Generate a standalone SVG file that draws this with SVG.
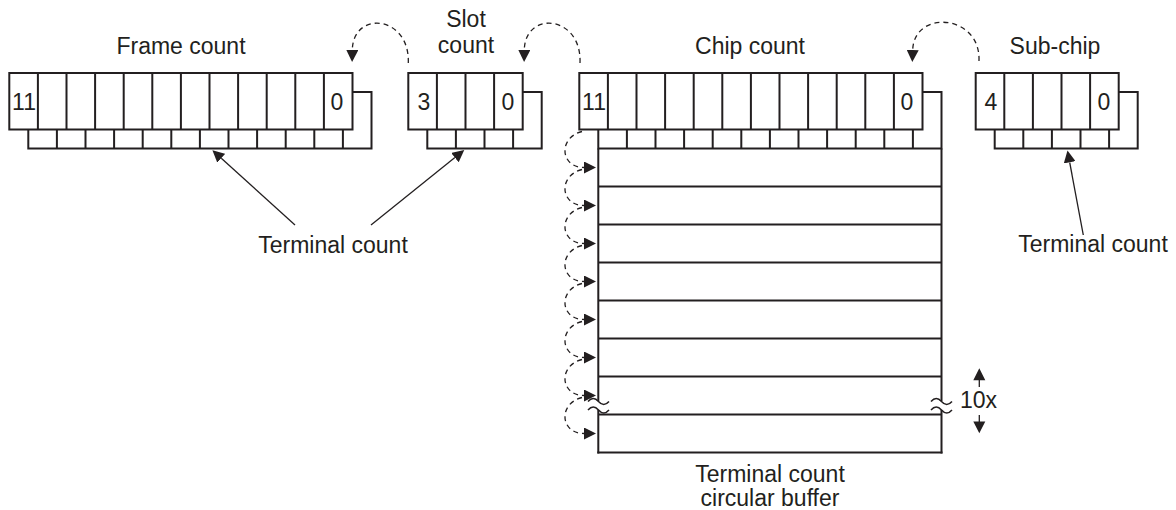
<svg xmlns="http://www.w3.org/2000/svg" xmlns:xlink="http://www.w3.org/1999/xlink" width="1176" height="510" viewBox="0 0 1176 510">
<style>
.t{font-family:"Liberation Sans",Arial,Helvetica,sans-serif;font-size:23px;fill:#231f20}
.m{text-anchor:middle}
.reg{fill:#fff;stroke:#231f20;stroke-width:2}
.div{fill:none;stroke:#231f20;stroke-width:2}
.buf{fill:none;stroke:#231f20;stroke-width:2}
.dash{fill:none;stroke:#231f20;stroke-width:1.3;stroke-dasharray:5 4}
.thin{fill:none;stroke:#231f20;stroke-width:1.3}
.tl{fill:none;stroke:#231f20;stroke-width:1.5}
</style>
<defs>
<marker id="ah" markerUnits="userSpaceOnUse" markerWidth="12" markerHeight="12" refX="0" refY="6" orient="auto">
<path d="M0,0 L12,6 L0,12 z" fill="#231f20"/>
</marker>
<g id="r12">
<rect class="reg" x="0" y="0" width="343.2" height="56.5"/>
<path class="div" d="M28.6,0V56.5M57.2,0V56.5M85.8,0V56.5M114.4,0V56.5M143,0V56.5M171.6,0V56.5M200.2,0V56.5M228.8,0V56.5M257.4,0V56.5M286,0V56.5M314.6,0V56.5"/>
</g>
<g id="r4">
<rect class="reg" x="0" y="0" width="114.4" height="56.5"/>
<path class="div" d="M28.6,0V56.5M57.2,0V56.5M85.8,0V56.5"/>
</g>
<g id="r5">
<rect class="reg" x="0" y="0" width="143" height="56.5"/>
<path class="div" d="M28.6,0V56.5M57.2,0V56.5M85.8,0V56.5M114.4,0V56.5"/>
</g>
</defs>

<g id="frame-count">
<use xlink:href="#r12" x="28.3" y="92"/>
<use xlink:href="#r12" x="9.3" y="73"/>
<text class="t m" x="181" y="54">Frame count</text>
<text class="t m" x="24" y="110">11</text>
<text class="t m" x="337" y="110">0</text>
</g>

<g id="slot-count">
<use xlink:href="#r4" x="427.3" y="92"/>
<use xlink:href="#r4" x="408.3" y="73"/>
<text class="t m" x="466" y="27.3">Slot</text>
<text class="t m" x="466" y="53.3">count</text>
<text class="t m" x="424" y="110">3</text>
<text class="t m" x="508" y="110">0</text>
</g>

<g id="chip-count">
<use xlink:href="#r12" x="598.3" y="92"/>
<use xlink:href="#r12" x="579.3" y="73"/>
<text class="t m" x="750" y="53.5">Chip count</text>
<text class="t m" x="594" y="110">11</text>
<text class="t m" x="907" y="110">0</text>
</g>

<g id="sub-chip">
<use xlink:href="#r5" x="994.7" y="92"/>
<use xlink:href="#r5" x="975.7" y="73"/>
<text class="t m" x="1055" y="53.5">Sub-chip</text>
<text class="t m" x="991" y="110">4</text>
<text class="t m" x="1104" y="110">0</text>
</g>

<g id="circular-buffer">
<path class="buf" d="M598.3,186.5H941.5M598.3,224.5H941.5M598.3,262.5H941.5M598.3,300.5H941.5M598.3,338.5H941.5M598.3,376.5H941.5M598.3,414.5H941.5M597.3,452.5H942.5"/>
<path class="buf" d="M598.3,148.5V401M598.3,410V453.5M941.5,148.5V401M941.5,410V453.5"/>
<path class="tl" d="M588,401.5q5.25,-6 10.5,0t10.5,0M588,410q5.25,-6 10.5,0t10.5,0M931,401.5q5.25,-6 10.5,0t10.5,0M931,410q5.25,-6 10.5,0t10.5,0"/>
<text class="t m" x="770" y="481.7">Terminal count</text>
<text class="t m" x="770" y="505.5">circular buffer</text>
</g>

<g id="repeat-label">
<path class="thin" d="M979.3,379V387M979.3,415V423"/>
<path d="M979.3,368.3L973.3,380.3L985.3,380.3z M973.3,421.5L985.3,421.5L979.3,433.3z" fill="#231f20"/>
<text class="t" x="960" y="408.3">10x</text>
</g>

<g id="terminal-labels">
<text class="t m" x="333" y="253.3">Terminal count</text>
<text class="t m" x="1093" y="251.7">Terminal count</text>
</g>

<g id="connectors">
<path class="dash" d="M408.3,63 C410,15 353,10 352.3,50" marker-end="url(#ah)"/>
<path class="dash" d="M580,63 C582,15 525,10 524.3,50" marker-end="url(#ah)"/>
<path class="dash" d="M979,61 C981,14 914,9 912.7,50" marker-end="url(#ah)"/>
<path class="dash" d="M582,131.5 C558,137.5 560,167.5 584,167.5" marker-end="url(#ah)"/>
<path class="dash" d="M582,169.5 C558,175.5 560,205.5 584,205.5" marker-end="url(#ah)"/>
<path class="dash" d="M582,207.5 C558,213.5 560,243.5 584,243.5" marker-end="url(#ah)"/>
<path class="dash" d="M582,245.5 C558,251.5 560,281.5 584,281.5" marker-end="url(#ah)"/>
<path class="dash" d="M582,283.5 C558,289.5 560,319.5 584,319.5" marker-end="url(#ah)"/>
<path class="dash" d="M582,321.5 C558,327.5 560,357.5 584,357.5" marker-end="url(#ah)"/>
<path class="dash" d="M582,359.5 C558,365.5 560,395.5 584,395.5" marker-end="url(#ah)"/>
<path class="dash" d="M582,397.5 C558,403.5 560,433.5 584,433.5" marker-end="url(#ah)"/>
<path class="thin" d="M295,225 L221.3,158.2" marker-end="url(#ah)"/>
<path class="thin" d="M371,225 L454.9,157.6" marker-end="url(#ah)"/>
<path class="thin" d="M1083.3,235 L1069.7,162.3" marker-end="url(#ah)"/>
</g>
</svg>
